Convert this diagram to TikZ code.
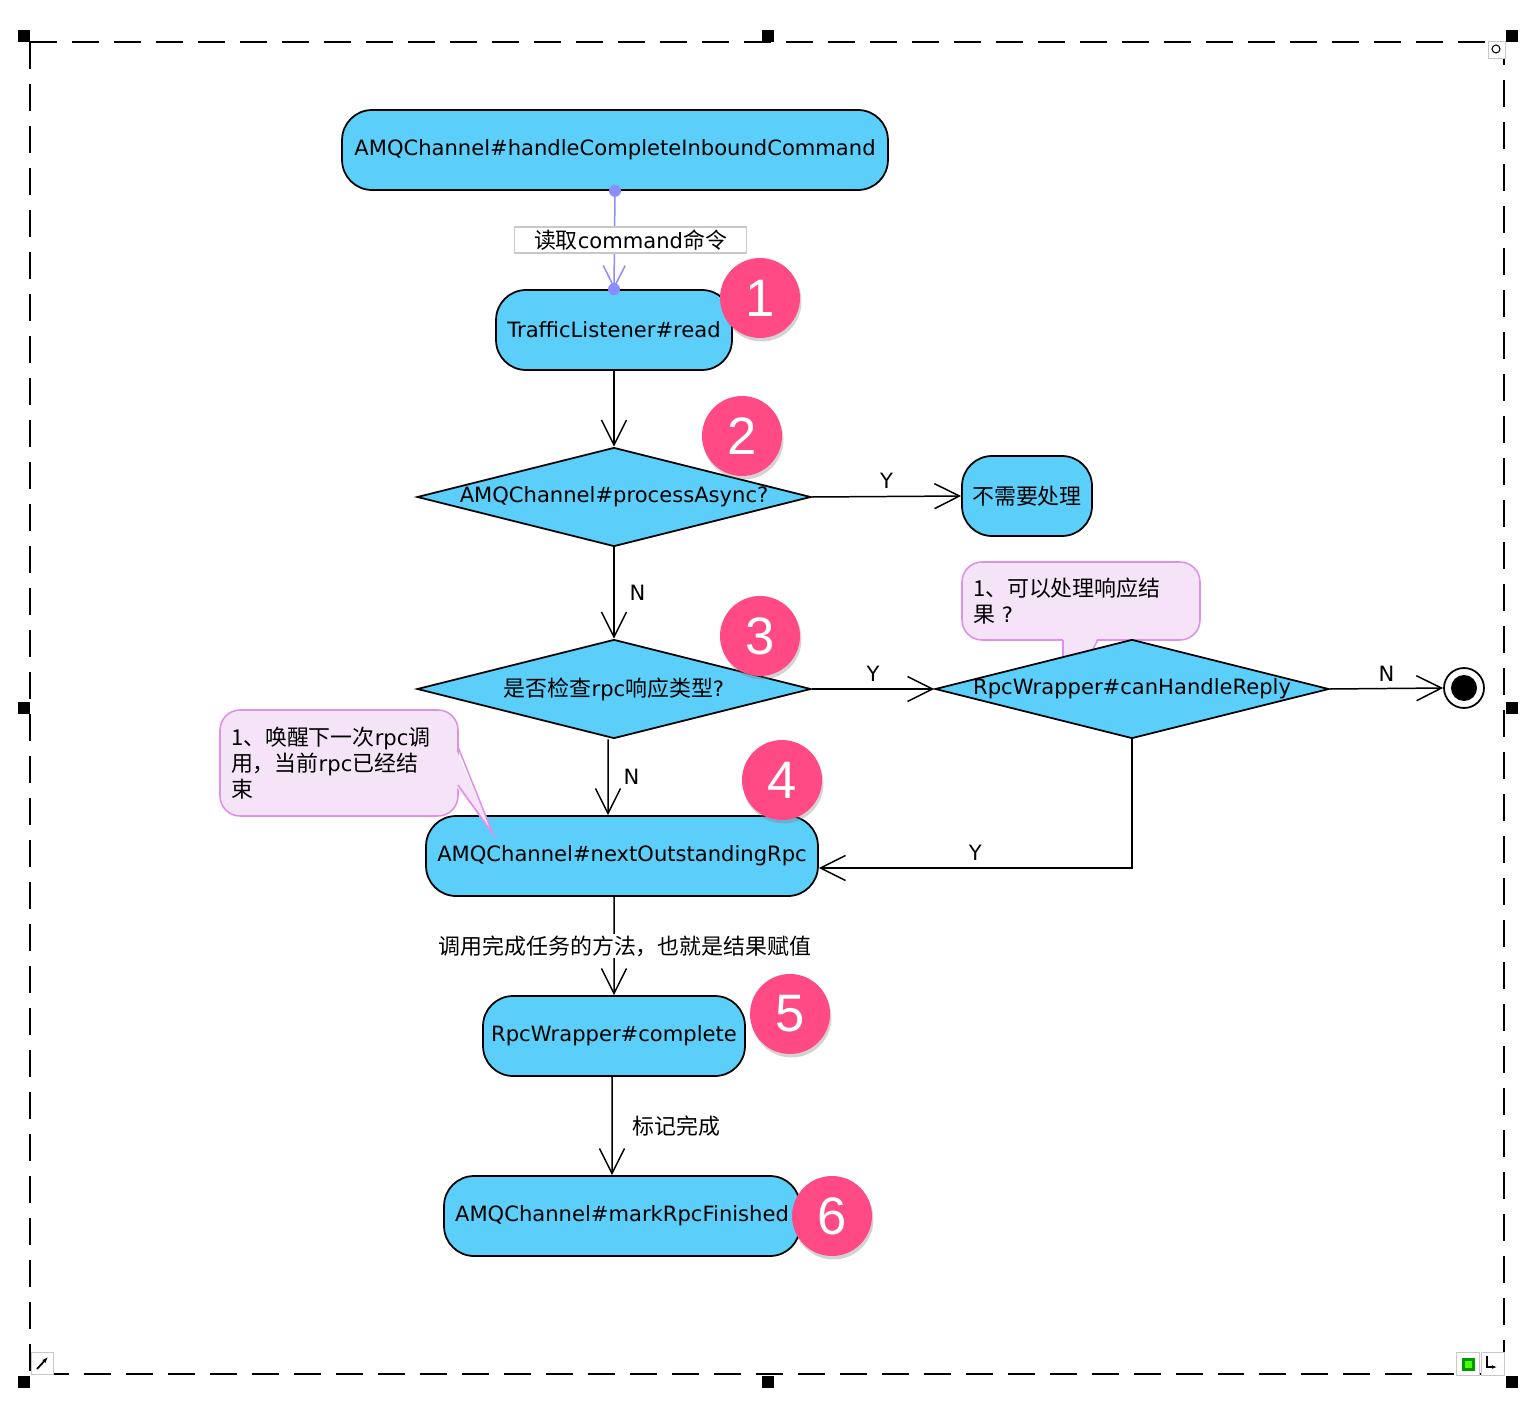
\documentclass[tikz,border=0pt]{standalone}
\usepackage{fontspec}
\setmainfont{DejaVu Sans}
\newfontfamily\cjk[Scale=1.04]{Noto Sans CJK SC}
\newfontfamily\badgefont{Liberation Sans}
\usepackage{tikz}
\usetikzlibrary{shapes.geometric, arrows.meta, shadows}
\definecolor{nodeblue}{RGB}{91,207,250}
\definecolor{notefill}{RGB}{245,228,248}
\definecolor{notedraw}{RGB}{222,145,232}
\definecolor{badgepink}{RGB}{255,74,134}
\definecolor{linkpurple}{RGB}{140,140,255}
\definecolor{tagframe}{RGB}{200,200,200}
\newcommand{\zh}[1]{{\cjk #1}}
\newcommand{\mainsize}{\fontsize{12}{15}\selectfont}
\tikzset{
  action/.style={rectangle, draw=black, fill=nodeblue, rounded corners=0.6cm,
    minimum height=1.6cm, line width=1pt, font=\mainsize, inner sep=0pt},
  decision/.style={diamond, draw=black, fill=nodeblue, line width=1pt,
    inner sep=0pt, minimum width=7.88cm, minimum height=1.98cm},
  notebox/.style={rectangle, draw=notedraw, fill=notefill, rounded corners=0.4cm,
    line width=0.9pt, align=left, font=\mainsize, inner xsep=0.22cm,
    text width=4.32cm},
  badge/.style={circle, fill=badgepink, minimum size=1.6cm, inner sep=0pt,
    text=white, font=\badgefont\fontsize{30}{30}\selectfont,
    drop shadow={opacity=0.35, shadow xshift=0.03cm, shadow yshift=-0.07cm}},
  arrow/.style={-{Straight Barb[length=0.5cm, width=0.5cm]}, line width=0.85pt},
  tag/.style={font=\mainsize, inner sep=1pt},
  handle/.style={fill=black, minimum size=0.24cm, inner sep=0pt, rectangle},
  icon/.style={draw=tagframe, fill=white, inner sep=0pt, rectangle}
}

\begin{document}
\begin{tikzpicture}[x=0.02cm, y=-0.02cm]
  \useasboundingbox (0,0) rectangle (1538,1402);

  % Frame
  \draw[line width=0.9pt, dash pattern=on 0.54cm off 0.3cm] (30,42) rectangle (1504,1374);
  \foreach \hx/\hy in {24/36, 768/36, 1512/36, 24/708, 1512/708, 24/1382, 768/1382, 1512/1382}
    \node[handle] at (\hx,\hy) {};
  \node[icon, minimum size=0.34cm] (zoomicon) at (1497,50) {};
  \draw[line width=0.6pt] (1496,49) circle (0.08cm);
  \node[icon, minimum size=0.44cm] (moveicon) at (42,1363) {};
  \draw[-{Latex[length=0.12cm]}, line width=1pt] (37,1369) -- (48,1357);
  \node[icon, minimum size=0.46cm] (fiticon) at (1468,1364) {};
  \node[fill=green!60!black, minimum size=0.26cm, inner sep=0pt] at (1468,1364) {};
  \node[fill=green!70!yellow, minimum size=0.14cm, inner sep=0pt] at (1468,1364) {};
  \node[icon, minimum size=0.46cm] (sizeicon) at (1493,1364) {};
  \draw[-{Latex[length=0.1cm]}, line width=0.8pt] (1487,1356) -- (1487,1367) -- (1497,1367);

  % Nodes
  \node[action, minimum width=10.92cm] (inbound) at (615,150) {AMQChannel\#handleCompleteInboundCommand};
  \node[action, minimum width=4.72cm] (read) at (614,330) {TrafficListener\#read};
  \node[decision] (async) at (614,497) {};
  \node[tag] at (async.center) {AMQChannel\#processAsync?};
  \node[action, minimum width=2.6cm] (skip) at (1027,496) {\zh{不需要处理}};
  \node[decision] (check) at (614,689) {};
  \node[tag] at (check.center) {\zh{是否检查}rpc\zh{响应类型}?};

  \node[notebox, minimum height=1.56cm] (replynote) at (1081,601)
    {\zh{1、可以处理响应结}\\\zh{果}~?};
  \fill[notefill] (1063,637) -- (1063,700) -- (1098,637) -- cycle;
  \draw[notedraw, line width=0.9pt] (1063,640) -- (1063,700) -- (1098,640);

  \node[decision] (reply) at (1132,689) {};
  \node[tag] at (reply.center) {RpcWrapper\#canHandleReply};
  \node[circle, draw=black, fill=white, line width=1pt, minimum size=0.8cm, inner sep=0pt] (fin) at (1464,688) {};
  \fill[black] (fin.center) circle (0.26cm);

  \node[action, minimum width=7.84cm] (next) at (622,856) {AMQChannel\#nextOutstandingRpc};
  \node[action, minimum width=5.24cm] (complete) at (614,1036) {RpcWrapper\#complete};
  \node[action, minimum width=7.12cm] (finished) at (622,1216) {AMQChannel\#markRpcFinished};

  \node[notebox, minimum height=2.12cm] (wakenote) at (339,763)
    {\zh{1、唤醒下一次}rpc\zh{调}\\\zh{用，当前}rpc\zh{已经结}\\\zh{束}};
  \fill[notefill] (455,747) -- (493,834) -- (455,785) -- cycle;
  \draw[notedraw, line width=0.9pt] (458,747) -- (493,834) -- (458,785);

  % Connections
  \draw[linkpurple, line width=0.85pt, -{Straight Barb[length=0.44cm, width=0.44cm]}]
    (inbound.south) -- node[draw=tagframe, fill=white, text=black, font=\mainsize, inner sep=0pt,
      minimum width=4.64cm, minimum height=0.52cm, xshift=0.32cm]
      {\zh{读取}command\zh{命令}} (read.north);
  \fill[linkpurple] (inbound.south) circle (0.12cm);
  \fill[linkpurple] (read.north) circle (0.12cm);

  \draw[arrow] (read.south) -- (async.north);
  \draw[arrow] (async.east) -- node[tag, above=0.1cm] {Y} (skip.west);
  \draw[arrow] (async.south) -- node[tag, right=0.26cm] {N} (check.north);
  \draw[arrow] (check.east) -- node[tag, above=0.1cm] {Y} (reply.west);
  \draw[arrow] (reply.east) -- node[tag, above=0.1cm] {N} (fin.west);
  \draw[arrow] (reply.south) |- node[tag, above=0.1cm, pos=0.75] {Y} ([yshift=-0.24cm]next.east);
  \draw[arrow] ([xshift=-0.12cm]check.south) -- node[tag, right=0.26cm] {N} ([xshift=-0.28cm]next.north);
  \draw[arrow] ([xshift=-0.16cm]next.south) -- node[tag, fill=white, xshift=0.22cm]
    {\zh{调用完成任务的方法，也就是结果赋值}} (complete.north);
  \draw[arrow] ([xshift=-0.04cm]complete.south) -- node[tag, right=0.36cm]
    {\zh{标记完成}} ([xshift=-0.2cm]finished.north);

  % Badges
  \node[badge] (b1) at (760,298) {1};
  \node[badge] (b2) at (742,436) {2};
  \node[badge] (b3) at (760,636) {3};
  \node[badge] (b4) at (782,780) {4};
  \node[badge] (b5) at (790,1014) {5};
  \node[badge] (b6) at (832,1216) {6};
\end{tikzpicture}
\end{document}
